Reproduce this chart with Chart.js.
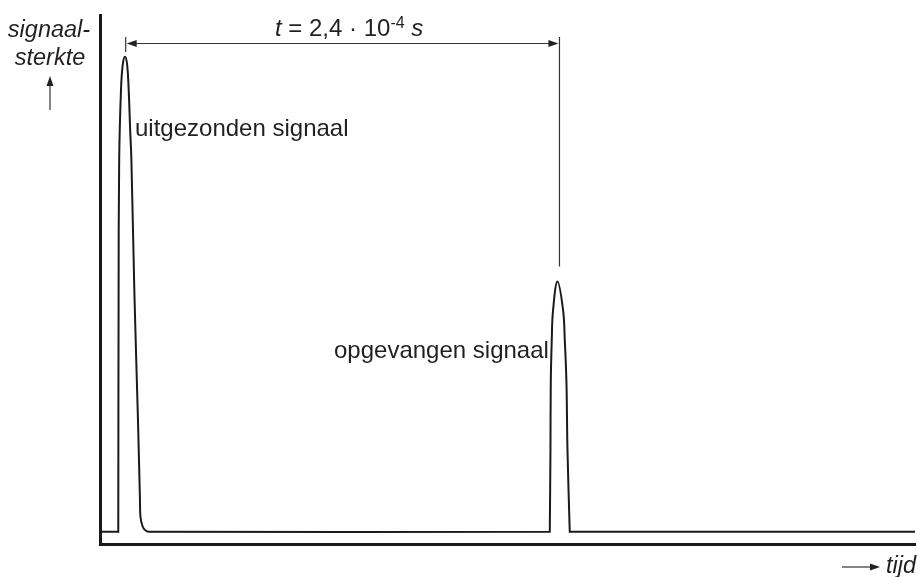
<!DOCTYPE html>
<html>
<head>
<meta charset="utf-8">
<script src="https://cdn.jsdelivr.net/npm/chart.js@4.4.1/dist/chart.umd.min.js"></script>
<style>
  html, body { margin: 0; padding: 0; background: #fff; }
  #chart { display: block; }
</style>
</head>
<body>
<canvas id="chart" width="917" height="577"></canvas>
<script>
// time in microseconds, signal strength in arbitrary units
// a repeated point makes a sharp corner in the curve
const timeUs = [0, 10.14, 10.14, 10.31, 10.64, 11.64, 12.58, 13.86, 15.08, 15.91, 16.74, 17.41, 19.13, 21.06,
  22.17, 22.45, 23.56, 24.94, 27.16,
  249.45, 249.45, 249.83, 250.0, 250.55, 251.27, 253.71, 256.82, 257.76, 258.7, 259.26,
  260.53, 260.53, 452];
const strength = [0, 0, 0, 43.8, 70.3, 83.5, 88.2, 89.8, 88.2, 83.5, 75.9, 70.3, 44.4, 21.1,
  6.0, 2.8, 1.1, 0.35, 0,
  0, 0, 15.5, 28.1, 36.3, 41.9, 47.3, 41.9, 36.3, 28.1, 15.5,
  0, 0, 0];

const sentPeakUs = 13.86;
const echoPeakUs = 253.71;
const echoPeakStrength = 47.3;

const labelSent = "uitgezonden signaal";
const labelEcho = "opgevangen signaal";
const axisLabelY = ["signaal-", "sterkte"];
const axisLabelX = "tijd";

const INK = "#1a1a1a";
const TEXT = "#231f20";
const FONT = "'Liberation Sans', Arial, sans-serif";

function arrowHead(ctx, x, y, dir) {
  // dir: "left" | "right" | "up"
  ctx.beginPath();
  if (dir === "left") {
    ctx.moveTo(x, y); ctx.lineTo(x + 10, y - 3.5); ctx.lineTo(x + 10, y + 3.5);
  } else if (dir === "right") {
    ctx.moveTo(x, y); ctx.lineTo(x - 10, y - 3.5); ctx.lineTo(x - 10, y + 3.5);
  } else {
    ctx.moveTo(x, y); ctx.lineTo(x - 3.5, y + 10); ctx.lineTo(x + 3.5, y + 10);
  }
  ctx.closePath();
  ctx.fill();
}

const annotations = {
  id: "annotations",
  afterDraw(chart) {
    const { ctx, scales } = chart;
    const xa = scales.x;
    const ya = scales.y;
    const p1 = xa.getPixelForValue(sentPeakUs) + 0.7;
    const p2 = xa.getPixelForValue(echoPeakUs) + 2;
    const echoTop = ya.getPixelForValue(echoPeakStrength);

    ctx.save();
    ctx.strokeStyle = "#333";
    ctx.fillStyle = "#222";
    ctx.lineWidth = 1.2;

    // dimension line between the two peaks
    const dimY = 43.5;
    ctx.beginPath();
    ctx.moveTo(p1, 37); ctx.lineTo(p1, 52);
    ctx.moveTo(p2, 37); ctx.lineTo(p2, echoTop - 15);
    ctx.moveTo(p1 + 4, dimY); ctx.lineTo(p2 - 4, dimY);
    ctx.stroke();
    arrowHead(ctx, p1 + 1, dimY, "left");
    arrowHead(ctx, p2 - 1, dimY, "right");

    // up arrow under y label
    ctx.beginPath();
    ctx.moveTo(50, 110); ctx.lineTo(50, 84);
    ctx.stroke();
    arrowHead(ctx, 50, 76, "up");

    // right arrow before "tijd"
    ctx.beginPath();
    ctx.moveTo(842, 567); ctx.lineTo(872, 567);
    ctx.stroke();
    arrowHead(ctx, 880, 567, "right");

    ctx.fillStyle = TEXT;
    ctx.textBaseline = "alphabetic";

    // title: t = 2,4 · 10^-4 s
    let x = 275;
    const base = 36;
    const parts = [
      { t: "t", f: "italic 24px " + FONT, dy: 0 },
      { t: " = 2,4 \u00b7 10", f: "24px " + FONT, dy: 0 },
      { t: "-4", f: "16px " + FONT, dy: -8 },
      { t: " ", f: "24px " + FONT, dy: 0 },
      { t: "s", f: "italic 24px " + FONT, dy: 0 },
    ];
    ctx.textAlign = "left";
    for (const part of parts) {
      ctx.font = part.f;
      ctx.fillText(part.t, x, base + part.dy);
      x += ctx.measureText(part.t).width;
    }

    // peak labels
    ctx.font = "24px " + FONT;
    ctx.fillText(labelSent, 135, 136);
    ctx.fillText(labelEcho, 334, 358);

    // axis labels
    ctx.font = "italic 23.5px " + FONT;
    ctx.textAlign = "center";
    ctx.fillText(axisLabelY[0], 49, 37);
    ctx.fillText(axisLabelY[1], 50, 65);
    ctx.textAlign = "left";
    ctx.fillText(axisLabelX, 886, 573);

    ctx.restore();
  },
};

new Chart(document.getElementById("chart"), {
  type: "line",
  data: {
    datasets: [
      {
        data: timeUs.map((t, i) => ({ x: t, y: strength[i] })),
        borderColor: INK,
        borderWidth: 2,
        pointRadius: 0,
        fill: false,
        tension: 0.4,
      },
    ],
  },
  options: {
    responsive: false,
    animation: false,
    devicePixelRatio: 1,
    layout: { padding: { left: 100, right: 2, top: 15, bottom: 33 } },
    plugins: { legend: { display: false }, tooltip: { enabled: false } },
    scales: {
      x: {
        type: "linear",
        min: 0,
        max: 452,
        ticks: { display: false },
        grid: { display: false, drawTicks: false },
        border: { display: true, color: INK, width: 3 },
      },
      y: {
        type: "linear",
        min: -2.3,
        max: 97.7,
        ticks: { display: false },
        grid: { display: false, drawTicks: false },
        border: { display: true, color: INK, width: 3 },
      },
    },
  },
  plugins: [annotations],
});
</script>
</body>
</html>
